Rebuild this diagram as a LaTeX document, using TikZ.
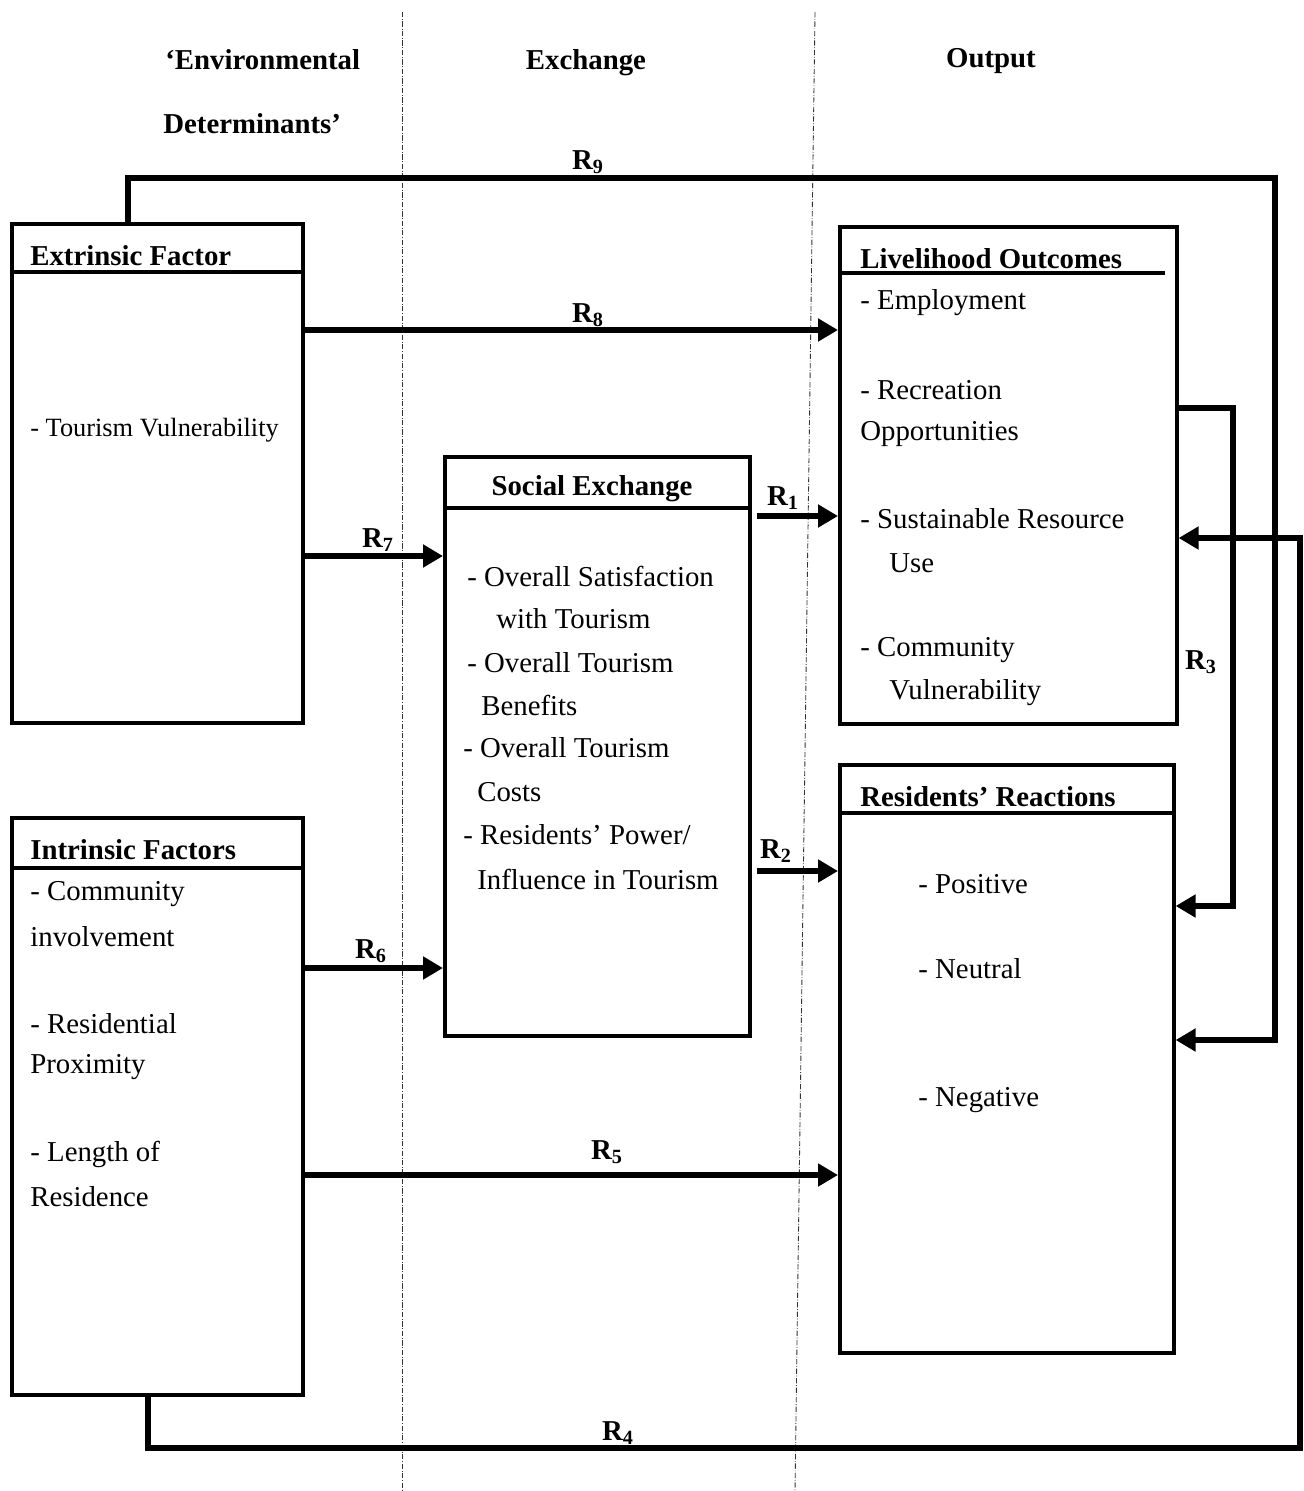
\documentclass[tikz,border=0pt]{standalone}
\usepackage{fontspec}
\setmainfont{Liberation Serif}
\usetikzlibrary{arrows.meta}
\newcommand\bodysize{\fontsize{16.4}{19.7}\selectfont}

\begin{document}
\begin{tikzpicture}[
  x=0.02cm,y=-0.02cm,
  box/.style={draw,line width=2.1pt,anchor=north west,inner sep=0pt},
  rule/.style={line width=2.1pt},
  flow/.style={line width=3pt,-{Triangle[length=4mm,width=4.4mm]}},
  divider/.style={densely dashdotted,line width=.5pt,black!80},
  head/.style={font=\bodysize\bfseries,anchor=west,inner sep=0pt},
  item/.style={font=\bodysize,anchor=west,inner sep=0pt},
  rlab/.style={font=\bodysize\bfseries,inner sep=0pt},
  every node/.style={font=\bodysize}
]
  \useasboundingbox (0,0) rectangle (1304,1491);

  % column dividers and titles
  \draw[divider] (402,12) -- (402,1491);
  \draw[divider] (815,12) -- (795,1491);
  \node[head] (envA) at (165,60) {‘Environmental};
  \node[head] (envB) at (163,124) {Determinants’};
  \node[rlab] (exch) at (586,63) {Exchange};
  \node[rlab] (outp) at (991,61) {Output};

  % boxes
  \node[box,minimum width=5.82cm,minimum height=9.98cm] (extr) at (10,222) {};
  \node[box,minimum width=5.82cm,minimum height=11.54cm] (intr) at (10,816) {};
  \node[box,minimum width=6.10cm,minimum height=11.58cm] (soc) at (443,455) {};
  \node[box,minimum width=6.74cm,minimum height=9.94cm] (livo) at (838,225) {};
  \node[box,minimum width=6.68cm,minimum height=11.76cm] (resr) at (838,763) {};

  \draw[rule] (extr.west |- 0,272) -- (extr.east |- 0,272);
  \draw[rule] (intr.west |- 0,868) -- (intr.east |- 0,868);
  \draw[rule] (soc.west |- 0,508) -- (soc.east |- 0,508);
  \draw[line width=2.6pt] (livo.west |- 0,273) -- (1165,273);
  \draw[rule] (resr.west |- 0,813) -- (resr.east |- 0,813);

  % extrinsic
  \node[head] (extrH) at (30,256) {Extrinsic Factor};
  \node[item,font=\fontsize{15}{18}\selectfont] (extrA) at (30,430) {- Tourism Vulnerability};

  % intrinsic
  \node[head] (intrH) at (30,850) {Intrinsic Factors};
  \node[item] (intrA) at (30,894) {- Community};
  \node[item] (intrB) at (30,937) {involvement};
  \node[item] (intrC) at (30,1024) {- Residential};
  \node[item] (intrD) at (30,1067) {Proximity};
  \node[item] (intrE) at (30,1154) {- Length of};
  \node[item] (intrF) at (30,1197) {Residence};

  % social exchange
  \node[rlab] (socH) at (592,489) {Social Exchange};
  \node[item] (socA) at (467,576) {- Overall Satisfaction};
  \node[item] (socB) at (496,619) {with Tourism};
  \node[item] (socC) at (467,663) {- Overall Tourism};
  \node[item] (socD) at (481,705) {Benefits};
  \node[item] (socE) at (463,748) {- Overall Tourism};
  \node[item] (socF) at (477,792) {Costs};
  \node[item] (socG) at (463,835) {- Residents’ Power/};
  \node[item] (socI) at (477,879) {Influence in Tourism};

  % livelihood outcomes
  \node[head] (livoH) at (860,259) {Livelihood Outcomes};
  \node[item] (livoA) at (860,303) {- Employment};
  \node[item] (livoB) at (860,390) {- Recreation};
  \node[item] (livoC) at (860,434) {Opportunities};
  \node[item] (livoD) at (860,519) {- Sustainable Resource};
  \node[item] (livoE) at (889,563) {Use};
  \node[item] (livoF) at (860,650) {- Community};
  \node[item] (livoG) at (889,693) {Vulnerability};

  % residents' reactions
  \node[head] (resrH) at (860,797) {Residents’ Reactions};
  \node[item] (resrA) at (918,884) {- Positive};
  \node[item] (resrB) at (918,969) {- Neutral};
  \node[item] (resrC) at (918,1100) {- Negative};

  % relations
  \draw[flow] (extr.east |- 0,330) -- (livo.west |- 0,330);
  \draw[flow] (extr.east |- 0,556) -- (soc.west |- 0,556);
  \draw[flow] ([xshift=1mm]soc.east |- 0,516) -- (livo.west |- 0,516);
  \draw[flow] ([xshift=1mm]soc.east |- 0,871) -- (resr.west |- 0,871);
  \draw[flow] (intr.east |- 0,968) -- (soc.west |- 0,968);
  \draw[flow] (intr.east |- 0,1175) -- (resr.west |- 0,1175);
  \draw[flow] (livo.east |- 0,408) -| (1233,906) -- (resr.east |- 0,906);
  \draw[flow] (extr.north -| 128,0) |- (1275,178) -- (1275,1040) -- (resr.east |- 0,1040);
  \draw[flow] (intr.south -| 148,0) |- (1300,1448) |- (livo.east |- 0,538);

  \node[rlab] (r9) at (588,162) {R\textsubscript{9}};
  \node[rlab] (r8) at (588,315) {R\textsubscript{8}};
  \node[rlab] (r7) at (378,540) {R\textsubscript{7}};
  \node[rlab] (r1) at (783,498) {R\textsubscript{1}};
  \node[rlab] (r2) at (776,851) {R\textsubscript{2}};
  \node[rlab] (r3) at (1201,662) {R\textsubscript{3}};
  \node[rlab] (r6) at (371,951) {R\textsubscript{6}};
  \node[rlab] (r5) at (607,1152) {R\textsubscript{5}};
  \node[rlab] (r4) at (618,1433) {R\textsubscript{4}};
\end{tikzpicture}
\end{document}
